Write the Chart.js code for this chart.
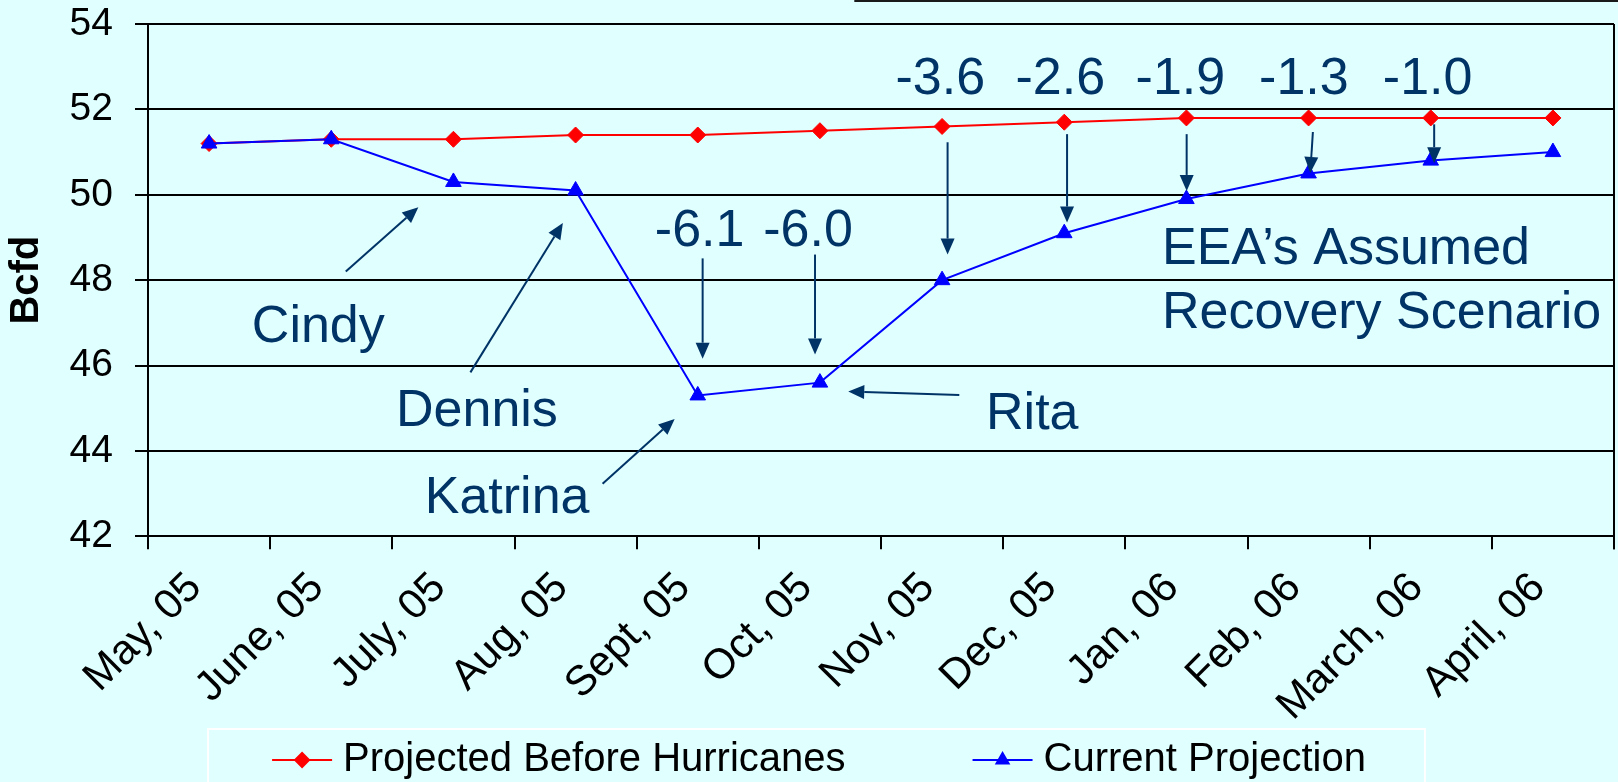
<!DOCTYPE html>
<html>
<head>
<meta charset="utf-8">
<script src="https://cdn.jsdelivr.net/npm/chart.js@4.4.0/dist/chart.umd.min.js"></script>
<style>
  html, body { margin:0; padding:0; background:#E0FFFF; }
  #wrap { width:1618px; height:782px; }
</style>
</head>
<body>
<div id="wrap"><canvas id="myChart" width="1618" height="782"></canvas></div>
<script>
// 月
const months = ['May, 05','June, 05','July, 05','Aug, 05','Sept, 05','Oct, 05','Nov, 05','Dec, 05','Jan, 06','Feb, 06','March, 06','April, 06'];
// Bcfd
const beforeHurricanes = [51.2, 51.3, 51.3, 51.4, 51.4, 51.5, 51.6, 51.7, 51.8, 51.8, 51.8, 51.8];
const currentProjection = [51.2, 51.3, 50.3, 50.1, 45.3, 45.6, 48.0, 49.1, 49.9, 50.5, 50.8, 51.0];
const yTicks = [42, 44, 46, 48, 50, 52, 54];

// 注記の文字 (x=月の番号, y=Bcfd, 左端・ベースライン)
const noteTexts = [
    {text:'Cindy', x:0.35, y:46.54},
    {text:'Dennis', x:1.53, y:44.59},
    {text:'Katrina', x:1.765, y:42.55},
    {text:'Rita', x:6.36, y:44.52},
    {text:'-6.1', x:3.649, y:48.81},
    {text:'-6.0', x:4.536, y:48.81},
    {text:'-3.6', x:5.619, y:52.35},
    {text:'-2.6', x:6.601, y:52.35},
    {text:'-1.9', x:7.584, y:52.35},
    {text:'-1.3', x:8.595, y:52.35},
    {text:'-1.0', x:9.608, y:52.35},
    {text:'EEA\u2019s Assumed', x:7.80, y:48.37},
    {text:'Recovery Scenario', x:7.80, y:46.87}
];
// 注記の矢印 (始点 -> 先端)
const noteArrows = [
    {x1:1.119, y1:48.20, x2:1.713, y2:49.71},
    {x1:2.139, y1:45.84, x2:2.896, y2:49.34},
    {x1:3.221, y1:43.23, x2:3.811, y2:44.75},
    {x1:6.141, y1:45.31, x2:5.232, y2:45.39},
    {x1:4.04, y1:48.51, x2:4.04, y2:46.16},
    {x1:4.96, y1:48.60, x2:4.96, y2:46.26},
    {x1:6.045, y1:51.23, x2:6.045, y2:48.60},
    {x1:7.023, y1:51.42, x2:7.023, y2:49.35},
    {x1:8.002, y1:51.42, x2:8.002, y2:50.09},
    {x1:9.035, y1:51.47, x2:9.014, y2:50.51},
    {x1:10.028, y1:51.65, x2:10.028, y2:50.74}
];

const FONT = '"Liberation Sans", Arial, sans-serif';
const BG = '#E0FFFF';
const NOTE = '#003366';

// 背景
const bgPlugin = {
    id:'bg',
    beforeDraw(chart){
        const c = chart.ctx;
        c.save();
        c.fillStyle = BG;
        c.fillRect(0, 0, chart.width, chart.height);
        // 上端の線
        c.strokeStyle = '#1a1a1a';
        c.lineWidth = 2;
        c.beginPath();
        c.moveTo(chart.width * 0.528, 1);
        c.lineTo(chart.width, 1);
        c.stroke();
        c.restore();
    },
    // 右の枠線
    afterDraw(chart){
        const c = chart.ctx, a = chart.chartArea;
        c.save();
        c.strokeStyle = '#000';
        c.lineWidth = 2;
        c.beginPath();
        c.moveTo(a.right, a.top);
        c.lineTo(a.right, a.bottom + 13);
        c.stroke();
        c.restore();
    }
};

// 注記
const notePlugin = {
    id:'notes',
    afterDatasetsDraw(chart){
        const c = chart.ctx;
        const x = chart.scales.x, y = chart.scales.y;
        c.save();
        c.fillStyle = NOTE;
        c.strokeStyle = NOTE;
        c.lineWidth = 2;
        c.font = '52px ' + FONT;
        c.textAlign = 'left';
        c.textBaseline = 'alphabetic';
        noteTexts.forEach(n => c.fillText(n.text, x.getPixelForValue(n.x), y.getPixelForValue(n.y)));
        noteArrows.forEach(a => {
            const x1 = x.getPixelForValue(a.x1), y1 = y.getPixelForValue(a.y1);
            const x2 = x.getPixelForValue(a.x2), y2 = y.getPixelForValue(a.y2);
            const ang = Math.atan2(y2 - y1, x2 - x1);
            const head = 16, half = 7;
            const bx = x2 - head * Math.cos(ang), by = y2 - head * Math.sin(ang);
            c.beginPath();
            c.moveTo(x1, y1);
            c.lineTo(bx, by);
            c.stroke();
            c.beginPath();
            c.moveTo(x2, y2);
            c.lineTo(bx + half * Math.sin(ang), by - half * Math.cos(ang));
            c.lineTo(bx - half * Math.sin(ang), by + half * Math.cos(ang));
            c.closePath();
            c.fill();
        });
        c.restore();
    }
};

// 凡例 (線+マーカー)
const legendPlugin = {
    id:'boxLegend',
    afterDraw(chart){
        const c = chart.ctx;
        const ds = chart.data.datasets;
        const markW = 60, gap = 11, between = 127;
        c.save();
        c.font = '40px ' + FONT;
        const widths = ds.map(d => c.measureText(d.label).width);
        let total = widths.reduce((s, w) => s + w + markW + gap, 0) + between * (ds.length - 1);
        let start = chart.width / 2 + 10 - total / 2;
        const cy = chart.height - 22;
        // 枠
        c.strokeStyle = '#FFFFFF';
        c.lineWidth = 2;
        c.strokeRect(start - 64, chart.height - 53, total + 123, 70);
        let px = start;
        ds.forEach((d, i) => {
            c.strokeStyle = d.borderColor;
            c.lineWidth = 2;
            c.beginPath();
            c.moveTo(px, cy);
            c.lineTo(px + markW, cy);
            c.stroke();
            c.fillStyle = d.backgroundColor;
            Chart.helpers.drawPoint(c, {pointStyle:d.pointStyle, radius:7, rotation:0, borderWidth:1}, px + markW / 2, cy);
            c.fill();
            c.fillStyle = '#000';
            c.textAlign = 'left';
            c.textBaseline = 'middle';
            c.fillText(d.label, px + markW + gap, cy);
            px += markW + gap + widths[i] + between;
        });
        c.restore();
    }
};

const ctx = document.getElementById('myChart').getContext('2d');
const myChart = new Chart(ctx, {
    type:'line',
    data:{
        labels: months,
        datasets:[
            {
                label:'Projected Before Hurricanes',
                data: beforeHurricanes,
                borderColor:'#FF0000',
                backgroundColor:'#FF0000',
                borderWidth:2,
                pointStyle:'rectRot',
                pointRadius:8,
                pointBorderWidth:1,
                order:2
            },
            {
                label:'Current Projection',
                data: currentProjection,
                borderColor:'#0000FF',
                backgroundColor:'#0000FF',
                borderWidth:2,
                pointStyle:'triangle',
                pointRadius:9,
                pointBorderWidth:1,
                order:1
            }
        ]
    },
    options:{
        responsive:false,
        animation:false,
        devicePixelRatio:1,
        layout:{ autoPadding:false, padding:{ left:3, right:4, top:24, bottom:37 } },
        plugins:{
            legend:{ display:false },
            tooltip:{ enabled:false }
        },
        scales:{
            x:{
                offset:true,
                afterFit(scale){ scale.paddingLeft = 0; scale.paddingRight = 0; },
                grid:{ drawOnChartArea:false, color:'#000', lineWidth:2, tickLength:13, offset:true },
                border:{ display:true, color:'#000', width:2 },
                ticks:{ color:'#000', font:{ size:42, family:FONT }, minRotation:45, maxRotation:45, autoSkip:false, padding:14, labelOffset:-14 }
            },
            y:{
                min:42,
                max:54,
                afterBuildTicks(scale){ scale.ticks = yTicks.map(v => ({value:v})); },
                afterFit(scale){ scale.width = 145; scale.paddingTop = 0; scale.paddingBottom = 0; },
                ticks:{ color:'#000', font:{ size:39, family:FONT }, padding:22 },
                grid:{ color:'#000', lineWidth:2, tickLength:13 },
                border:{ display:true, color:'#000', width:2 },
                title:{ display:true, text:'Bcfd', color:'#000', font:{ size:40, weight:'bold', family:FONT }, padding:{ top:0, bottom:18 } }
            }
        }
    },
    plugins:[bgPlugin, notePlugin, legendPlugin]
});
</script>
</body>
</html>
